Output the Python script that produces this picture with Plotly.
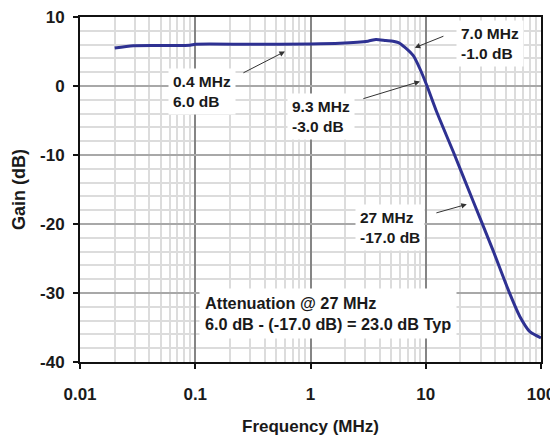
import plotly.graph_objects as go
import math

# Data
freq_mhz = [0.02, 0.029, 0.09, 0.1, 0.3, 1.0, 1.8, 3.15, 3.7, 4.5, 5.2, 5.8, 6.6, 7.8, 8.9, 10.2, 12.4, 17.3, 25.8, 38.5, 53.6, 65.5, 80, 100]
gain_db = [5.5, 5.85, 5.9, 6.05, 6.05, 6.1, 6.2, 6.5, 6.75, 6.6, 6.5, 6.3, 5.6, 4.4, 2.5, 0.1, -3.7, -9.5, -16.7, -23.9, -30.1, -33.4, -35.6, -36.5]

x_tickvals = [0.01, 0.1, 1, 10, 100]
x_ticktext = ["0.01", "0.1", "1", "10", "100"]
y_tickvals = [-40, -30, -20, -10, 0, 10]
y_ticktext = ["-40", "-30", "-20", "-10", "0", "10"]

# Callouts: label text, label position (MHz, dB), arrow tail and head (MHz, dB)
labels = ["0.4 MHz<br>6.0 dB", "7.0 MHz<br>-1.0 dB", "9.3 MHz<br>-3.0 dB", "27 MHz<br>-17.0 dB"]
label_f = [0.114, 36.0, 1.23, 4.89]
label_g = [-0.8, 6.1, -4.4, -20.5]
tail_f = [0.254, 14.66, 2.79, 12.0]
tail_g = [1.8, 7.3, -1.9, -18.45]
head_f = [0.6, 8.03, 8.9, 22.7]
head_g = [5.0, 5.55, 0.66, -17.15]

note_text = "Attenuation @ 27 MHz<br>6.0 dB - (-17.0 dB) = 23.0 dB Typ"
note_f = 1.42
note_g = -32.9

FONT = "Liberation Sans, Arial, sans-serif"
TXT = "#1a1a1a"

fig = go.Figure()
fig.add_trace(go.Scatter(x=freq_mhz, y=gain_db, mode="lines",
                         line=dict(color="#2e3192", width=3, shape="spline", smoothing=0.6),
                         showlegend=False, hoverinfo="skip"))

annotations = []
for t, lf, lg in zip(labels, label_f, label_g):
    annotations.append(dict(x=math.log10(lf), y=lg, xref="x", yref="y", text=t,
                            showarrow=False, align="left", bgcolor="white", borderpad=4,
                            font=dict(family=FONT, size=15.5, color=TXT, weight="bold")))
for tf, tg, hf, hg in zip(tail_f, tail_g, head_f, head_g):
    annotations.append(dict(x=math.log10(hf), y=hg, ax=math.log10(tf), ay=tg,
                            xref="x", yref="y", axref="x", ayref="y", text="",
                            showarrow=True, arrowhead=2, arrowsize=1.1, arrowwidth=1,
                            arrowcolor="#333333"))
annotations.append(dict(x=math.log10(note_f), y=note_g, xref="x", yref="y", text=note_text,
                        showarrow=False, align="left", bgcolor="white", borderpad=5,
                        font=dict(family=FONT, size=16.3, color=TXT, weight="bold")))

fig.update_layout(
    width=550, height=436,
    margin=dict(l=72, r=17, t=9, b=82),
    paper_bgcolor="white", plot_bgcolor="white",
    font=dict(family=FONT, size=17, color=TXT, weight="bold"),
    annotations=annotations,
    xaxis=dict(type="log", range=[-2, 2], tickvals=x_tickvals, ticktext=x_ticktext,
               automargin=False, ticklabeloverflow="allow",
               showline=True, linecolor="#111111", linewidth=2, mirror=True,
               ticks="outside", ticklen=5, tickcolor="#111111", tickwidth=1.5,
               ticklabelstandoff=11,
               showgrid=True, gridcolor="#858585", gridwidth=1.5,
               minor=dict(showgrid=True, dtick="D1", gridcolor="#dcdcdc", gridwidth=1.5, ticks=""),
               tickfont=dict(family=FONT, size=17, color=TXT, weight="bold"),
               title=dict(text="Frequency (MHz)", standoff=17,
                          font=dict(family=FONT, size=17, color=TXT, weight="bold")),
               zeroline=False),
    yaxis=dict(range=[-40, 10], tickvals=y_tickvals, ticktext=y_ticktext,
               automargin=False, ticklabeloverflow="allow",
               showline=True, linecolor="#111111", linewidth=2, mirror=True,
               ticks="outside", ticklen=5, tickcolor="#111111", tickwidth=1.5,
               ticklabelstandoff=5,
               showgrid=True, gridcolor="#a8a8a8", gridwidth=1.5,
               minor=dict(showgrid=True, dtick=2, gridcolor="#dcdcdc", gridwidth=1.5, ticks=""),
               tickfont=dict(family=FONT, size=17, color=TXT, weight="bold"),
               title=dict(text="Gain (dB)", standoff=10,
                          font=dict(family=FONT, size=18, color=TXT, weight="bold")),
               zeroline=False),
)

fig.write_html("out.html")
